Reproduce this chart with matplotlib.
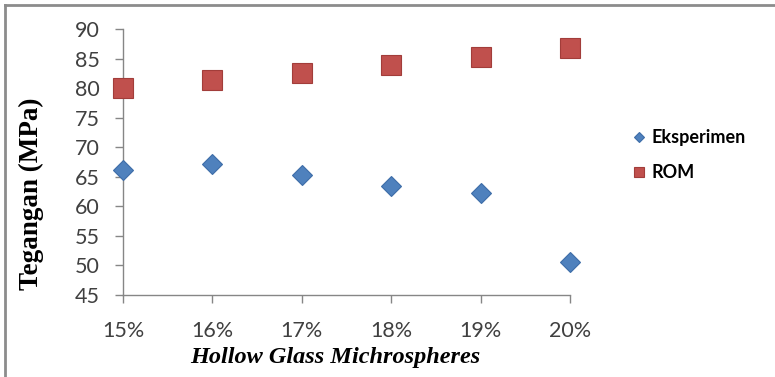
import matplotlib.pyplot as plt
from matplotlib.lines import Line2D

# Tensile stress vs hollow glass microsphere fraction
fractions = [15, 16, 17, 18, 19, 20]
tick_labels = ["15%", "16%", "17%", "18%", "19%", "20%"]
eksperimen = [66.1, 67.2, 65.3, 63.5, 62.3, 50.5]
rom = [80.0, 81.3, 82.6, 83.9, 85.2, 86.7]

axis_grey = "#868686"
text_grey = "#404040"

fig = plt.figure(figsize=(7.75, 3.77), dpi=100)
ax = fig.add_axes([0.1587, 0.2175, 0.5768, 0.7056])

ax.plot(fractions, eksperimen, linestyle="none", marker="D", markersize=10.5,
        color="#4F81BD", markeredgecolor="#3E6DA8", markeredgewidth=0.8,
        label="Eksperimen", clip_on=False, zorder=3)
ax.plot(fractions, rom, linestyle="none", marker="s", markersize=15,
        color="#C0504D", markeredgecolor="#A23D3A", markeredgewidth=0.8,
        label="ROM", clip_on=False, zorder=3)

ax.set_xlim(15, 20)
ax.set_ylim(45, 90)
ax.set_xticks(fractions)
ax.set_xticklabels(tick_labels)
ax.set_yticks(range(45, 91, 5))

for side in ("top", "right"):
    ax.spines[side].set_visible(False)
for side in ("left", "bottom"):
    ax.spines[side].set_color(axis_grey)
    ax.spines[side].set_linewidth(1.0)

ax.tick_params(axis="both", direction="out", length=6, width=1.0,
               color=axis_grey, labelsize=15.5, labelcolor=text_grey, pad=11)
ax.tick_params(axis="x", pad=13)
for lbl in ax.get_xticklabels() + ax.get_yticklabels():
    lbl.set_family("Lato")

ax.set_ylabel("Tegangan (MPa)", family="Liberation Serif", fontweight="bold",
              fontsize=19.5)
ax.yaxis.set_label_coords(-0.176, 0.38)
ax.set_xlabel("Hollow Glass Michrospheres", family="Liberation Serif",
              fontweight="bold", fontstyle="italic", fontsize=17.5)
ax.xaxis.set_label_coords(0.474, -0.195)

leg = ax.legend(loc="center left", bbox_to_anchor=(1.105, 0.526), frameon=False,
                markerscale=0.5, handlelength=0.6, handletextpad=0.4,
                labelspacing=1.0,
                prop={"family": "Lato", "size": 13, "weight": "bold"})

# outer chart frame (only top and left edges show)
fig.add_artist(Line2D([0.006, 0.006], [0.0, 0.986], transform=fig.transFigure,
                      color="#8c8c8c", linewidth=2))
fig.add_artist(Line2D([0.006, 1.0], [0.986, 0.986], transform=fig.transFigure,
                      color="#8c8c8c", linewidth=2))

fig.savefig("out.png", dpi=100)
